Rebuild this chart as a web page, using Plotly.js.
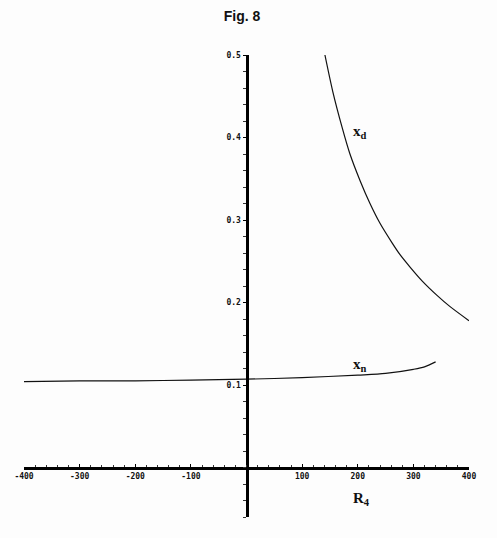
<!DOCTYPE html>
<html>
<head>
<meta charset="utf-8">
<script src="https://cdn.plot.ly/plotly-3.0.1.min.js"></script>
<style>
  body { margin: 0; background: #fdfdfd; }
  #plot { width: 497px; height: 538px; }
</style>
</head>
<body>
<div id="plot"></div>
<script>
// curve x_d
let xdR = [141, 155, 172, 186, 204, 222, 240, 262, 276, 294, 316, 342, 366, 400];
let xdVal = [0.5, 0.456, 0.412, 0.380, 0.348, 0.320, 0.296, 0.272, 0.258, 0.243, 0.226, 0.209, 0.195, 0.178];

// curve x_n
let xnR = [-400, -300, -200, -100, 0, 100, 200, 250, 300, 320, 340];
let xnVal = [0.104, 0.105, 0.105, 0.106, 0.107, 0.109, 0.112, 0.114, 0.119, 0.122, 0.128];

// tick labels
let xTicks = [-400, -300, -200, -100, 100, 200, 300, 400];
let yTicks = [0.1, 0.2, 0.3, 0.4, 0.5];

let tickFont = { family: "DejaVu Sans Mono", size: 8, color: "#111", weight: "bold" };
let labelFont = { family: "Liberation Serif", size: 15, color: "#111", weight: "bold" };

let xdTrace = {
    x: xdR,
    y: xdVal,
    mode: "lines",
    line: { color: "#111", width: 1.2, shape: "spline", smoothing: 0.8 },
    hoverinfo: "skip"
};

let xnTrace = {
    x: xnR,
    y: xnVal,
    mode: "lines",
    line: { color: "#111", width: 1.2, shape: "spline", smoothing: 0.8 },
    hoverinfo: "skip"
};

let layout = {
    width: 497,
    height: 538,
    showlegend: false,
    paper_bgcolor: "#fdfdfd",
    plot_bgcolor: "#fdfdfd",
    margin: { l: 24, r: 28, t: 55, b: 21 },
    title: {
        text: "Fig. 8",
        font: { family: "Liberation Sans", size: 14, color: "#111", weight: "bold" },
        x: 0.487, xanchor: "center",
        y: 1 - 16 / 538, yanchor: "middle", yref: "container"
    },
    xaxis: {
        range: [-400, 400],
        anchor: "free",
        position: 0.06 / 0.56,
        showgrid: false,
        zeroline: false,
        showline: true,
        linecolor: "#000",
        linewidth: 3,
        tickmode: "array",
        tickvals: xTicks,
        ticktext: xTicks.map(String),
        ticks: "inside",
        ticklen: 3,
        tickcolor: "#000",
        tickfont: tickFont,
        minor: { dtick: 20, tick0: 0, ticks: "inside", ticklen: 2, tickcolor: "#333" }
    },
    yaxis: {
        range: [-0.06, 0.5],
        anchor: "free",
        position: 0.5,
        showgrid: false,
        zeroline: false,
        showline: true,
        linecolor: "#000",
        linewidth: 3,
        tickmode: "array",
        tickvals: yTicks,
        ticktext: yTicks.map(String),
        ticks: "outside",
        ticklen: 3,
        tickcolor: "#000",
        tickfont: tickFont,
        minor: { dtick: 0.02, tick0: 0, ticks: "outside", ticklen: 3, tickcolor: "#333" }
    },
    annotations: [
        {
            x: 204, y: 0.407, xref: "x", yref: "y",
            text: "x<sub>d</sub>", showarrow: false, font: labelFont
        },
        {
            x: 204, y: 0.124, xref: "x", yref: "y",
            text: "x<sub>n</sub>", showarrow: false, font: labelFont
        },
        {
            x: 207, y: -0.038, xref: "x", yref: "y",
            text: "R<sub>4</sub>", showarrow: false, font: labelFont
        }
    ]
};

Plotly.newPlot("plot", [xdTrace, xnTrace], layout, { displayModeBar: false, staticPlot: true });
</script>
</body>
</html>
